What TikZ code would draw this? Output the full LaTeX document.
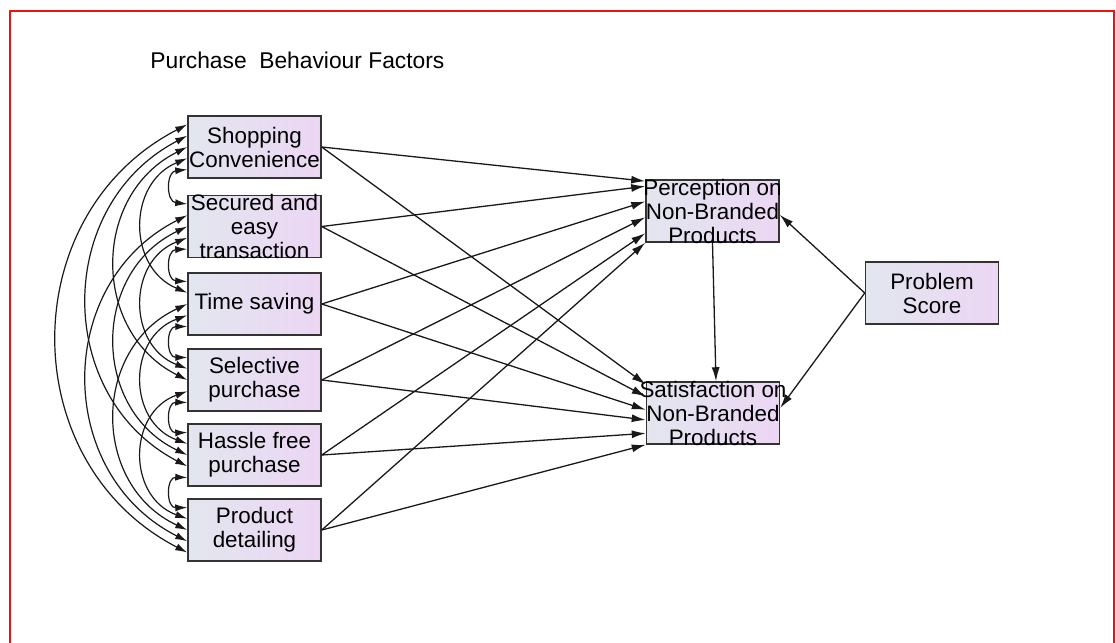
\documentclass[tikz,border=0pt]{standalone}
\usepackage{fontspec}
\setmainfont{Liberation Sans}
\usetikzlibrary{arrows.meta,calc}
\definecolor{boxL}{RGB}{226,230,238}
\definecolor{boxR}{RGB}{236,214,244}
\definecolor{frameRed}{RGB}{235,20,20}
\begin{document}
\begin{tikzpicture}[x=0.5pt,y=0.5pt,
  box/.style={draw=black!80, line width=0.75pt, minimum width=66.5pt, minimum height=31pt,
    inner sep=0pt, left color=boxL, right color=boxR},
  lbl/.style={align=center, inner sep=0pt, font=\fontsize{11.2}{12}\selectfont, text=black},
  arr/.style={draw=black!90, line width=0.65pt, -{Latex[length=7pt,width=4pt]}},
  cov/.style={draw=black!90, line width=0.6pt, {Latex[length=6pt,width=3.6pt]}-{Latex[length=6pt,width=3.6pt]}}]
\useasboundingbox (0,0) rectangle (1116,-643);
\draw[frameRed, line width=1pt] (10,-643) -- (10,-11) -- (1114,-11) -- (1114,-643);

\node[anchor=west, inner sep=0pt, font=\fontsize{11.4}{13}\selectfont] (title) at (150,-60) {Purchase\ \ Behaviour Factors};

\node[box, label={[lbl]center:Shopping\\Convenience}] (b0) at (254.5,-147) {};
\node[box, label={[lbl]center:Secured and\\easy\\transaction}] (b1) at (254.5,-226.5) {};
\node[box, label={[lbl]center:Time saving}] (b2) at (254.5,-304) {};
\node[box, label={[lbl]center:Selective\\purchase}] (b3) at (254.5,-380) {};
\node[box, label={[lbl]center:Hassle free\\purchase}] (b4) at (254.5,-455) {};
\node[box, label={[lbl]center:Product\\detailing}] (b5) at (254.5,-530) {};

\node[box, label={[lbl]center:Perception on\\Non-Branded\\Products}] (perc) at (712.5,-211) {};
\node[box, label={[lbl]center:Satisfaction on\\Non-Branded\\Products}] (sat) at (713,-413) {};
\node[box, label={[lbl]center:Problem\\Score}] (ps) at (932,-293) {};

\foreach \i/\fp/\fs in {0/0.03/0.05, 1/0.11/0.24, 2/0.35/0.45, 3/0.6/0.61, 4/0.85/0.82, 5/1.0/1.0} {
  \draw[arr] (b\i.east) -- ($(perc.north west)!\fp!(perc.south west)$);
  \draw[arr] (b\i.east) -- ($(sat.north west)!\fs!(sat.south west)$);
}
\draw[arr] (perc.south) -- ($(sat.north)+(3,0)$);
\draw[arr] (ps.west) -- ($(perc.north east)!0.56!(perc.south east)$);
\draw[arr] (ps.west) -- ($(sat.north east)!0.42!(sat.south east)$);

\def\ctrs{{147,226.5,304,380,455,530}}
\def\bulges{{0,16,45,72,100,130}}
\foreach \i/\j in {0/1,0/2,0/3,0/4,0/5,1/2,1/3,1/4,1/5,2/3,2/4,2/5,3/4,3/5,4/5} {
  \pgfmathsetmacro\ki{\i+5-\j}
  \pgfmathsetmacro\kj{\j-1-\i}
  \pgfmathsetmacro\fa{(9+11*\ki)/62}
  \pgfmathsetmacro\fb{(9+11*\kj)/62}
  \pgfmathsetmacro\yp{\ctrs[\i]-31+9+11*\ki}
  \pgfmathsetmacro\yq{\ctrs[\j]-31+9+11*\kj}
  \pgfmathsetmacro\s{\bulges[\j-\i]}
  \pgfmathsetmacro\myphi{2*atan(2*\s/(\yq-\yp))}
  \pgfmathsetmacro\o{270-\myphi}
  \pgfmathsetmacro\n{90+\myphi}
  \pgfmathsetmacro\D{0.5*4*\s/(3*sin(\myphi))}
  \draw[cov] ($(b\i.north west)!\fa!(b\i.south west)$) to[out=\o,in=\n,distance=\D pt] ($(b\j.north west)!\fb!(b\j.south west)$);
}
\end{tikzpicture}
\end{document}
